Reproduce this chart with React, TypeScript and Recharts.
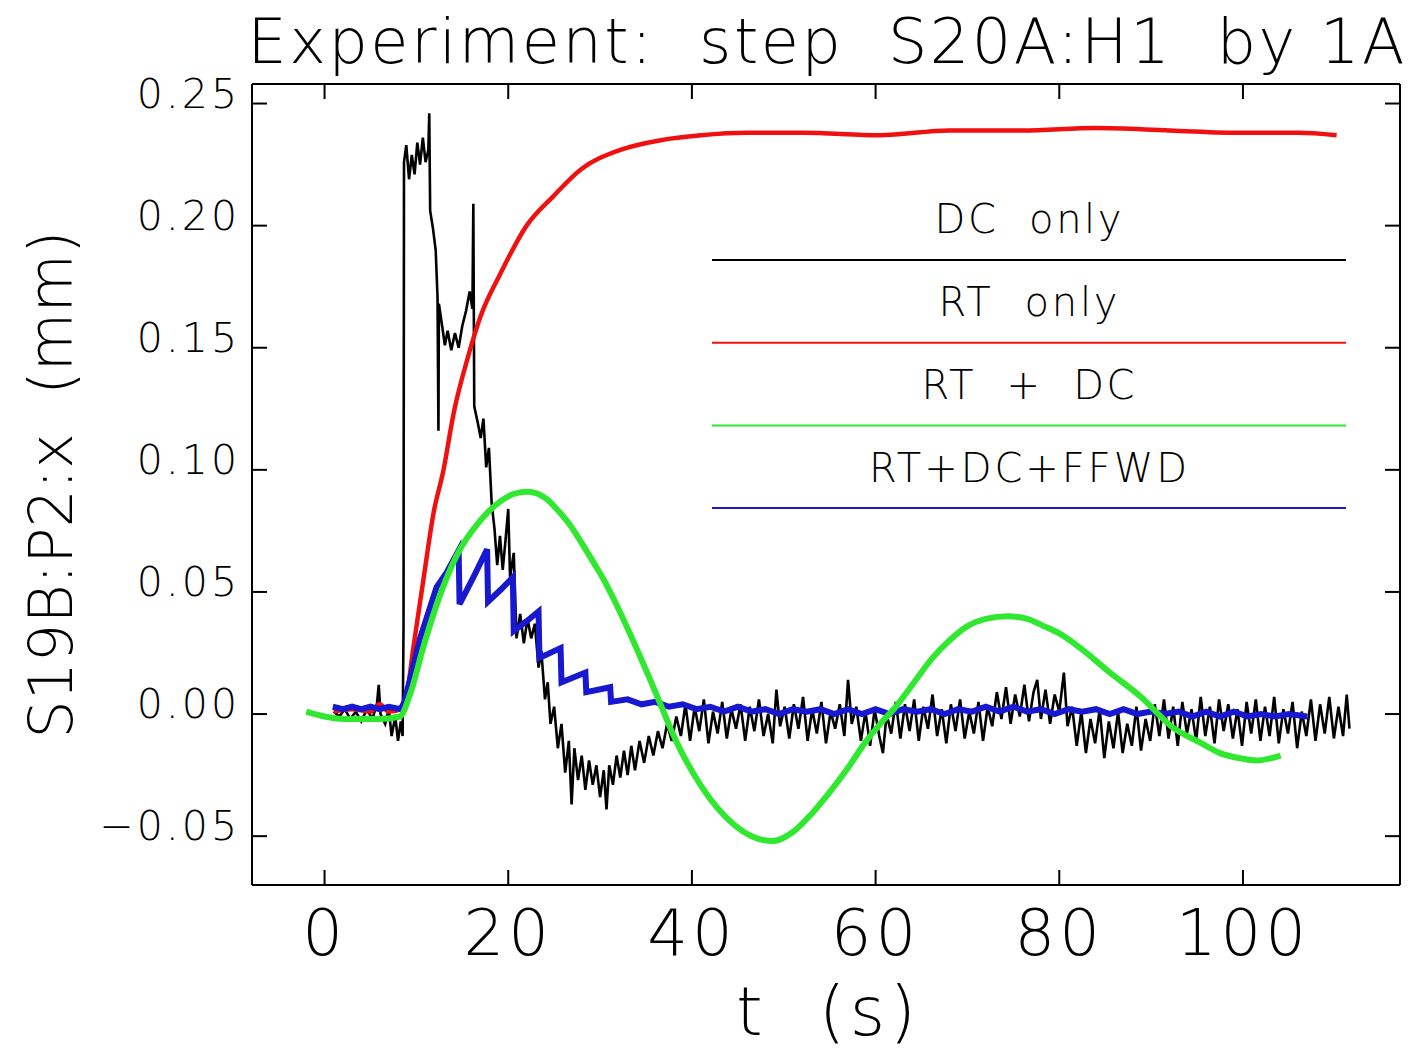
import React from 'react';
import { LineChart, Line, XAxis, YAxis, Legend, Label } from 'recharts';

/* ─── Data (t in s, x in mm) ───────────────────────────────────────────────── */
const X_TICKS = [0, 20, 40, 60, 80, 100];
const Y_TICKS = [-0.05, 0, 0.05, 0.1, 0.15, 0.2, 0.25];

// DC only (black)
const DC_ONLY: [number, number][] = [
    [1.0, 0.001], [1.6, -0.001], [2.2, 0.002], [2.8, -0.002], [3.4, 0.001], [4.0, -0.003], [4.6, 0.002],
    [5.2, -0.002], [5.7, 0.004], [5.9, 0.012], [6.1, 0.0], [6.6, -0.004], [7.0, 0.002], [7.3, -0.009],
    [7.7, -0.001], [8.0, -0.011], [8.3, -0.003], [8.5, -0.009], [8.6, 0.036], [8.65, 0.226], [8.9, 0.233],
    [9.2, 0.219], [9.5, 0.229], [9.8, 0.221], [10.1, 0.234], [10.4, 0.225], [10.7, 0.236], [11.0, 0.226],
    [11.3, 0.231], [11.4, 0.246], [11.5, 0.206], [11.8, 0.199], [12.1, 0.19], [12.3, 0.171], [12.4, 0.116],
    [12.45, 0.168], [12.8, 0.159], [13.1, 0.151], [13.4, 0.157], [13.8, 0.149], [14.2, 0.156], [14.6, 0.15],
    [15.0, 0.159], [15.4, 0.165], [15.8, 0.173], [16.1, 0.166], [16.2, 0.209], [16.3, 0.126], [16.7, 0.119],
    [17.0, 0.113], [17.3, 0.121], [17.6, 0.101], [17.9, 0.109], [18.2, 0.086], [18.5, 0.076], [18.8, 0.061],
    [19.1, 0.073], [19.4, 0.059], [19.7, 0.071], [20.0, 0.084], [20.2, 0.056], [20.6, 0.066], [20.9, 0.031],
    [21.3, 0.041], [21.7, 0.029], [22.1, 0.039], [22.5, 0.031], [22.9, 0.037], [23.3, 0.019], [23.6, 0.026],
    [24.0, 0.006], [24.3, 0.013], [24.6, -0.004], [25.0, 0.003], [25.4, -0.014], [25.8, -0.004], [26.2, -0.024],
    [26.6, -0.011], [26.9, -0.037], [27.2, -0.014], [27.6, -0.027], [28.0, -0.017], [28.4, -0.031], [28.8, -0.019],
    [29.2, -0.029], [29.6, -0.021], [30.0, -0.034], [30.4, -0.023], [30.7, -0.039], [31.0, -0.021], [31.4, -0.029],
    [31.8, -0.017], [32.2, -0.026], [32.6, -0.015], [33.0, -0.025], [33.4, -0.013], [33.8, -0.023], [34.3, -0.011],
    [34.8, -0.02], [35.3, -0.009], [35.8, -0.017], [36.3, -0.007], [36.8, -0.014], [37.3, -0.004], [37.8, -0.011],
    [38.3, -0.001], [38.8, -0.009], [39.3, 0.004], [39.8, -0.011], [40.3, 0.003], [40.8, -0.007], [41.3, 0.006],
    [41.8, -0.012], [42.3, 0.001], [42.8, -0.008], [43.3, 0.005], [43.8, -0.01], [44.3, 0.002], [44.8, -0.006],
    [45.3, 0.004], [45.8, -0.011], [46.3, 0.003], [46.8, -0.007], [47.3, 0.006], [47.8, -0.009], [48.3, 0.0],
    [48.8, -0.012], [49.2, 0.01], [49.6, -0.005], [50.1, 0.003], [50.6, -0.01], [51.1, 0.004], [51.6, -0.006],
    [52.1, 0.007], [52.6, -0.011], [53.1, 0.002], [53.6, -0.008], [54.1, 0.005], [54.6, -0.012], [55.1, 0.001],
    [55.6, -0.006], [56.1, 0.004], [56.6, -0.009], [57.0, 0.014], [57.4, -0.004], [57.9, 0.003], [58.4, -0.011],
    [58.9, 0.001], [59.4, -0.013], [59.9, 0.002], [60.4, -0.009], [60.8, -0.016], [61.2, 0.0], [61.7, -0.008],
    [62.2, 0.005], [62.7, -0.01], [63.2, 0.004], [63.7, -0.007], [64.2, 0.006], [64.7, -0.011], [65.2, 0.003],
    [65.7, -0.006], [66.2, 0.008], [66.7, -0.009], [67.2, 0.002], [67.7, -0.012], [68.2, 0.004], [68.7, -0.007],
    [69.2, 0.006], [69.7, -0.01], [70.2, 0.001], [70.7, -0.008], [71.2, 0.005], [71.7, -0.011], [72.2, 0.003],
    [72.7, -0.005], [73.2, 0.009], [73.7, -0.002], [74.2, 0.011], [74.7, -0.004], [75.2, 0.008], [75.7, -0.001],
    [76.2, 0.012], [76.7, -0.003], [77.2, 0.009], [77.6, 0.014], [78.0, -0.002], [78.5, 0.01], [79.0, -0.004],
    [79.5, 0.008], [80.0, 0.001], [80.5, 0.017], [80.9, -0.005], [81.4, 0.003], [81.9, -0.013], [82.4, 0.001],
    [82.9, -0.016], [83.4, -0.002], [83.9, -0.012], [84.4, 0.002], [84.9, -0.018], [85.4, -0.003], [85.9, -0.014],
    [86.4, 0.001], [86.9, -0.016], [87.4, -0.004], [87.9, -0.013], [88.4, 0.003], [88.9, -0.015], [89.4, -0.002],
    [89.9, -0.011], [90.4, 0.004], [90.9, -0.009], [91.4, 0.006], [91.9, -0.01], [92.4, 0.003], [92.9, -0.013],
    [93.4, 0.005], [93.9, -0.008], [94.4, 0.002], [94.9, -0.011], [95.4, 0.007], [95.9, -0.009], [96.4, 0.003],
    [96.9, -0.012], [97.4, 0.006], [97.9, -0.007], [98.4, 0.004], [98.9, -0.01], [99.4, 0.002], [99.9, -0.013],
    [100.4, 0.005], [100.9, -0.008], [101.4, 0.006], [101.9, -0.011], [102.4, 0.003], [102.9, -0.009], [103.4, 0.007],
    [103.9, -0.012], [104.4, 0.002], [104.9, -0.008], [105.4, 0.005], [105.9, -0.014], [106.4, 0.001], [106.9, -0.009],
    [107.4, 0.006], [107.9, -0.011], [108.4, 0.004], [108.9, -0.008], [109.4, 0.007], [109.9, -0.01], [110.4, 0.003],
    [110.9, -0.009], [111.3, 0.008], [111.6, -0.006],
];

// RT only (red)
const RT_ONLY: [number, number][] = [
    [1.0, 0.001], [3.0, 0.002], [5.0, 0.001], [6.0, 0.004], [7.0, 0.001], [8.3, 0.002], [8.8, 0.005],
    [9.7, 0.028], [10.8, 0.056], [11.9, 0.083], [12.9, 0.099], [14.1, 0.124], [15.6, 0.146], [17.0, 0.163],
    [19.1, 0.18], [22.0, 0.2], [24.9, 0.212], [27.9, 0.223], [32.2, 0.231], [36.6, 0.235], [41.0, 0.237],
    [46.0, 0.238], [52.0, 0.238], [60.5, 0.237], [68.0, 0.239], [76.0, 0.239], [84.0, 0.24], [92.0, 0.239],
    [100.0, 0.238], [106.0, 0.238], [110.2, 0.237],
];

// RT + DC (green)
const RT_DC: [number, number][] = [
    [-2.0, 0.001], [0.0, -0.001], [2.0, -0.002], [4.0, -0.002], [6.0, -0.002], [8.2, -0.001], [9.3, 0.008],
    [10.8, 0.028], [12.6, 0.049], [14.4, 0.065], [16.9, 0.079], [19.1, 0.087], [20.5, 0.09], [22.0, 0.091],
    [23.0, 0.0905], [24.2, 0.088], [25.5, 0.083], [26.8, 0.077], [28.0, 0.07], [29.3, 0.062], [30.4, 0.055],
    [31.5, 0.047], [33.6, 0.03], [35.8, 0.011], [38.4, -0.012], [41.1, -0.03], [44.5, -0.045], [46.5, -0.05],
    [48.8, -0.052], [51.1, -0.048], [53.0, -0.041], [55.0, -0.032], [57.0, -0.022], [58.8, -0.012], [60.5, -0.004],
    [62.2, 0.003], [64.0, 0.012], [66.2, 0.023], [68.0, 0.03], [70.0, 0.036], [72.0, 0.039], [74.4, 0.04],
    [76.5, 0.039], [78.3, 0.036], [80.0, 0.033], [82.3, 0.027], [85.5, 0.017], [88.9, 0.007], [92.2, -0.005],
    [95.5, -0.012], [97.5, -0.016], [99.5, -0.018], [101.5, -0.019], [104.1, -0.017],
];

// RT + DC + FFWD (blue)
const RT_DC_FFWD: [number, number][] = [
    [0.9, 0.003], [2.0, 0.002], [3.0, 0.003], [4.0, 0.002], [5.0, 0.003], [6.0, 0.002], [7.0, 0.003], [8.3, 0.002],
    [8.7, 0.005], [10.4, 0.031], [12.2, 0.052], [13.3, 0.058], [14.6, 0.067], [14.7, 0.045], [16.2, 0.056],
    [17.7, 0.0675], [17.8, 0.046], [19.2, 0.051], [20.5, 0.056], [20.6, 0.034], [22.0, 0.038], [23.3, 0.042],
    [23.4, 0.023], [25.7, 0.027], [25.8, 0.013], [28.4, 0.017], [28.5, 0.009], [31.1, 0.011], [31.2, 0.005],
    [33.0, 0.006], [34.5, 0.004], [36.0, 0.005], [37.5, 0.003], [39.0, 0.004], [40.5, 0.002], [42.0, 0.003],
    [43.5, 0.001], [45.0, 0.003], [46.5, 0.001], [48.0, 0.002], [49.5, 0.0], [51.0, 0.002], [52.5, 0.001],
    [54.0, 0.002], [55.5, 0.0], [57.0, 0.002], [58.5, 0.0], [60.0, 0.002], [61.5, 0.0], [63.0, 0.002],
    [64.5, 0.001], [66.0, 0.002], [67.5, 0.0], [69.0, 0.002], [70.5, 0.001], [72.0, 0.003], [73.5, 0.001],
    [75.0, 0.003], [76.5, 0.001], [78.0, 0.002], [79.5, 0.0], [81.0, 0.002], [82.5, 0.001], [84.0, 0.002],
    [85.5, 0.0], [87.0, 0.002], [88.5, 0.0], [90.0, 0.001], [91.5, 0.0], [93.0, 0.001], [94.5, -0.001],
    [96.0, 0.001], [97.5, -0.001], [99.0, 0.001], [100.5, -0.001], [102.0, 0.0], [103.5, -0.001], [105.0, 0.0],
    [107.0, -0.001],
];

const toPoints = (rows: [number, number][]) => rows.map(([t, v]) => ({ t, v }));

const FONT = '"DejaVu Sans", sans-serif';
const LIGHT = 200;

/* ─── Ticks (pointing inward) ──────────────────────────────────────────────── */
function BottomTick({ x, y, payload }: any) {
    return (
        <g>
            <line x1={x} x2={x} y1={y} y2={y - 15} stroke="#000" strokeWidth={2} />
            <text x={x} y={y + 70} textAnchor="middle" fontSize={64} fontFamily={FONT} fontWeight={LIGHT} letterSpacing={4} fill="#000">
                {payload.value}
            </text>
        </g>
    );
}

function TopTick({ x, y }: any) {
    return <line x1={x} x2={x} y1={y} y2={y + 15} stroke="#000" strokeWidth={2} />;
}

function LeftTick({ x, y, payload }: any) {
    const v: number = payload.value;
    const txt = (v < 0 ? '\u2212' : '') + Math.abs(v).toFixed(2);
    return (
        <g>
            <line x1={x} x2={x + 15} y1={y} y2={y} stroke="#000" strokeWidth={2} />
            <text x={x - 12} y={y + 4} textAnchor="end" fontSize={41} fontFamily={FONT} fontWeight={LIGHT} letterSpacing={3} fill="#000">
                {txt}
            </text>
        </g>
    );
}

function RightTick({ x, y }: any) {
    return <line x1={x} x2={x - 15} y1={y} y2={y} stroke="#000" strokeWidth={2} />;
}

/* ─── Labels ──────────────────────────────────────────────────────────────── */
function TitleLabel({ viewBox }: any) {
    const cx = viewBox ? viewBox.x + viewBox.width / 2 : 826;
    const y = viewBox ? viewBox.y + viewBox.height - 21 : 63;
    return (
        <text x={cx} y={y} textAnchor="middle" fontSize={62} fontFamily={FONT} fontWeight={LIGHT}
            textLength={1157} lengthAdjust="spacing" fill="#000" style={{ whiteSpace: 'pre' }}>
            {'Experiment:  step  S20A:H1  by 1A'}
        </text>
    );
}

function XLabel({ viewBox }: any) {
    const cx = viewBox ? viewBox.x + viewBox.width / 2 : 826;
    const y = viewBox ? viewBox.y + 150 : 1035;
    return (
        <text x={cx} y={y} textAnchor="middle" fontSize={68} fontFamily={FONT} fontWeight={LIGHT}
            textLength={180} lengthAdjust="spacing" fill="#000" style={{ whiteSpace: 'pre' }}>
            {'t  (s)'}
        </text>
    );
}

function YLabel({ viewBox }: any) {
    const cx = viewBox ? viewBox.x + 72 : 72;
    const cy = viewBox ? viewBox.y + viewBox.height / 2 : 486;
    return (
        <text x={cx} y={cy} transform={`rotate(-90, ${cx}, ${cy})`} textAnchor="middle" fontSize={60} fontFamily={FONT}
            fontWeight={LIGHT} textLength={508} lengthAdjust="spacing" fill="#000" style={{ whiteSpace: 'pre' }}>
            {'S19B:P2:x  (mm)'}
        </text>
    );
}

/* ─── Legend (text above a coloured rule) ─────────────────────────────────── */
const LEGEND_ORDER = ['DC  only', 'RT  only', 'RT  +  DC', 'RT+DC+FFWD'];
const LEGEND_TEXT_LEN = [187, 179, 213, 318];

function renderLegend({ payload }: any) {
    const entries = LEGEND_ORDER.map((name) => (payload || []).find((p: any) => p.value === name)).filter(Boolean);
    return (
        <svg width={660} height={330} style={{ display: 'block' }}>
            {entries.map((p: any, i: number) => (
                <g key={p.value}>
                    <text x={328} y={43 + i * 83} textAnchor="middle" fontSize={40} fontFamily={FONT} fontWeight={LIGHT}
                        textLength={LEGEND_TEXT_LEN[i]} lengthAdjust="spacing" fill="#000" style={{ whiteSpace: 'pre' }}>
                        {p.value}
                    </text>
                    <line x1={12} x2={646} y1={70 + i * 82.7} y2={70 + i * 82.7} stroke={p.color} strokeWidth={2} />
                </g>
            ))}
        </svg>
    );
}

export default function App() {
    return (
        <div style={{ position: 'absolute', left: 0, top: 0, width: 1410, height: 1054, background: '#fff' }}>
            <LineChart width={1410} height={1054} margin={{ top: 0, right: 0, left: 0, bottom: 0 }}>
                <XAxis xAxisId="b" type="number" dataKey="t" domain={[-7.9, 117.1]} allowDataOverflow ticks={X_TICKS}
                    height={169} tickSize={0} tickMargin={0} tickLine={false} tick={<BottomTick />}
                    axisLine={{ stroke: '#000', strokeWidth: 2 }} interval={0}>
                    <Label content={<XLabel />} />
                </XAxis>
                <XAxis xAxisId="t" orientation="top" type="number" dataKey="t" domain={[-7.9, 117.1]} allowDataOverflow
                    ticks={X_TICKS} height={84} tickSize={0} tickMargin={0} tickLine={false} tick={<TopTick />}
                    axisLine={{ stroke: '#000', strokeWidth: 2 }} interval={0}>
                    <Label content={<TitleLabel />} />
                </XAxis>
                <YAxis yAxisId="l" type="number" domain={[-0.07, 0.258]} allowDataOverflow ticks={Y_TICKS} width={252}
                    tickSize={0} tickMargin={0} tickLine={false} tick={<LeftTick />} interval={0}
                    axisLine={{ stroke: '#000', strokeWidth: 2 }}>
                    <Label content={<YLabel />} />
                </YAxis>
                <YAxis yAxisId="r" orientation="right" type="number" domain={[-0.07, 0.258]} allowDataOverflow ticks={Y_TICKS}
                    width={10} tickSize={0} tickMargin={0} tickLine={false} tick={<RightTick />} interval={0}
                    axisLine={{ stroke: '#000', strokeWidth: 2 }} />
                <Legend content={renderLegend} layout="horizontal" verticalAlign="middle" align="center"
                    wrapperStyle={{ position: 'absolute', left: 700, top: 190, width: 660, height: 330 }} />

                <Line xAxisId="b" yAxisId="l" data={toPoints(DC_ONLY)} dataKey="v" name="DC  only" type="linear"
                    stroke="#000000" strokeWidth={2.6} dot={false} isAnimationActive={false} />
                <Line xAxisId="b" yAxisId="l" data={toPoints(RT_ONLY)} dataKey="v" name="RT  only" type="monotone"
                    stroke="#f01010" strokeWidth={4.5} dot={false} isAnimationActive={false} />
                <Line xAxisId="b" yAxisId="l" data={toPoints(RT_DC_FFWD)} dataKey="v" name="RT+DC+FFWD" type="linear"
                    stroke="#1818d0" strokeWidth={6} dot={false} isAnimationActive={false} />
                <Line xAxisId="b" yAxisId="l" data={toPoints(RT_DC)} dataKey="v" name="RT  +  DC" type="monotone"
                    stroke="#30e830" strokeWidth={6} dot={false} isAnimationActive={false} />
            </LineChart>
        </div>
    );
}
